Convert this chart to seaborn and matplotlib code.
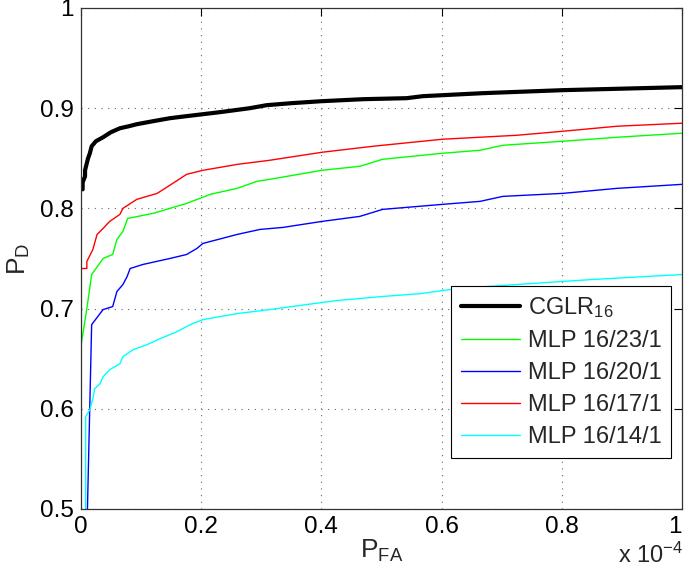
import numpy as np
import pandas as pd
import matplotlib
matplotlib.use("Agg")
import matplotlib.pyplot as plt
import seaborn as sns

# P_FA in units of 1e-4, P_D
cglr_x = [0.003, 0.003, 0.007, 0.007, 0.012, 0.015, 0.018, 0.025, 0.037, 0.05, 0.065, 0.08, 0.093, 0.12,
          0.148, 0.175, 0.203, 0.231, 0.281, 0.309, 0.35, 0.401, 0.47, 0.542, 0.569, 0.669, 0.802, 1.0]
cglr_y = [0.819, 0.826, 0.832, 0.838, 0.850, 0.855, 0.862, 0.867, 0.871, 0.876, 0.880, 0.882, 0.884, 0.887,
          0.890, 0.892, 0.894, 0.896, 0.900, 0.903, 0.905, 0.907, 0.909, 0.910, 0.912, 0.915, 0.918, 0.921]

mlp23_x = [0, 0.01, 0.018, 0.037, 0.053, 0.06, 0.07, 0.078, 0.12, 0.148, 0.176, 0.198, 0.215, 0.26,
           0.293, 0.314, 0.401, 0.464, 0.502, 0.601, 0.664, 0.702, 0.802, 0.892, 1.0]
mlp23_y = [0.662, 0.70, 0.734, 0.750, 0.754, 0.769, 0.777, 0.790, 0.795, 0.800, 0.805, 0.810, 0.814, 0.820,
           0.827, 0.829, 0.838, 0.842, 0.849, 0.855, 0.858, 0.863, 0.867, 0.871, 0.875]

mlp20_x = [0.011, 0.018, 0.037, 0.053, 0.06, 0.07, 0.077, 0.082, 0.103, 0.148, 0.176, 0.193, 0.203, 0.26,
           0.298, 0.336, 0.401, 0.464, 0.502, 0.601, 0.664, 0.702, 0.802, 0.892, 1.0]
mlp20_y = [0.5, 0.684, 0.699, 0.702, 0.717, 0.724, 0.732, 0.740, 0.744, 0.750, 0.754, 0.760, 0.765, 0.774,
           0.779, 0.781, 0.787, 0.792, 0.799, 0.804, 0.807, 0.812, 0.815, 0.820, 0.824]

mlp17_x = [0, 0, 0.01, 0.01, 0.02, 0.027, 0.037, 0.048, 0.065, 0.07, 0.093, 0.127, 0.153, 0.176,
           0.203, 0.261, 0.314, 0.401, 0.486, 0.601, 0.726, 0.802, 0.892, 1.0]
mlp17_y = [0.5, 0.740, 0.740, 0.747, 0.759, 0.774, 0.780, 0.787, 0.794, 0.800, 0.809, 0.815, 0.825, 0.834,
           0.838, 0.844, 0.848, 0.856, 0.862, 0.869, 0.873, 0.877, 0.882, 0.885]

mlp14_x = [0.008, 0.008, 0.015, 0.02, 0.023, 0.032, 0.037, 0.048, 0.065, 0.07, 0.087, 0.11, 0.132, 0.16,
           0.182, 0.203, 0.26, 0.314, 0.363, 0.426, 0.5, 0.566, 0.626, 0.7, 0.85, 1.0]
mlp14_y = [0.5, 0.592, 0.599, 0.61, 0.62, 0.625, 0.632, 0.639, 0.645, 0.652, 0.659, 0.664, 0.67, 0.677,
           0.684, 0.689, 0.695, 0.699, 0.703, 0.708, 0.712, 0.715, 0.720, 0.723, 0.729, 0.734]

labels = ["CGLR$_{16}$", "MLP 16/23/1", "MLP 16/20/1", "MLP 16/17/1", "MLP 16/14/1"]
colors = ["black", "#00ff00", "#0000ff", "#ff0000", "#00ffff"]
widths = [3.0, 1.0, 1.0, 1.0, 1.0]
series = [(cglr_x, cglr_y), (mlp23_x, mlp23_y), (mlp20_x, mlp20_y), (mlp17_x, mlp17_y), (mlp14_x, mlp14_y)]

x_ticks = [0, 0.2, 0.4, 0.6, 0.8, 1]
x_ticklabels = ["0", "0.2", "0.4", "0.6", "0.8", "1"]
y_ticks = [0.5, 0.6, 0.7, 0.8, 0.9, 1]
y_ticklabels = ["0.5", "0.6", "0.7", "0.8", "0.9", "1"]

sns.set_style("white")
plt.rcParams["font.family"] = ["Liberation Sans", "DejaVu Sans"]
plt.rcParams["mathtext.fontset"] = "custom"
plt.rcParams["mathtext.rm"] = "Liberation Sans"
plt.rcParams["mathtext.it"] = "Liberation Sans"
plt.rcParams["mathtext.default"] = "regular"

fig = plt.figure(figsize=(6.85, 5.71), dpi=100)
ax = fig.add_axes([0.118, 0.1086, 0.8776, 0.8774])

for (xs, ys), lab, col, lw in zip(series, labels, colors, widths):
    df = pd.DataFrame({"pfa": xs, "pd": ys})
    sns.lineplot(data=df, x="pfa", y="pd", ax=ax, color=col, lw=lw, label=lab, sort=False, estimator=None)

ax.set_xlim(0, 1)
ax.set_ylim(0.5, 1)
ax.set_xticks(x_ticks)
ax.set_xticklabels(x_ticklabels)
ax.set_yticks(y_ticks)
ax.set_yticklabels(y_ticklabels)
ax.tick_params(direction="in", length=6, width=0.8, top=True, right=True, labelsize=17.5, pad=5, colors="black")
ax.get_xticklabels()[-1].set_horizontalalignment("right")
ax.grid(True, linestyle=(0, (1, 5)), color="#666666", lw=0.8)
for s in ax.spines.values():
    s.set_color("#333333")
    s.set_linewidth(0.9)

ax.set_xlabel("P$_{FA}$", fontsize=19, labelpad=0)
ax.set_ylabel("P$_{D}$", fontsize=19, labelpad=6)
fig.text(0.998, 0.005, "x 10$^{-4}$", ha="right", va="bottom", fontsize=17)

leg = ax.legend(loc="upper right", bbox_to_anchor=(0.982, 0.445), borderaxespad=0, fontsize=17,
                handlelength=2.5, handletextpad=0.35, labelspacing=0.42, fancybox=False,
                edgecolor="black", framealpha=1, borderpad=0.4)
leg.get_frame().set_linewidth(0.8)

fig.savefig("out.png", dpi=100)
